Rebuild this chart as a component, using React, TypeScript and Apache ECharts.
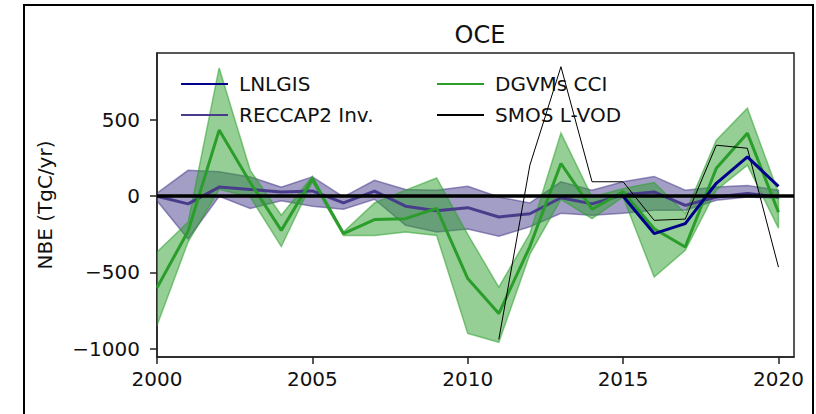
import React, { useEffect, useRef } from "react";
import * as echarts from "echarts";

// Years on the x axis
const years = [
  2000, 2001, 2002, 2003, 2004, 2005, 2006, 2007, 2008, 2009, 2010,
  2011, 2012, 2013, 2014, 2015, 2016, 2017, 2018, 2019, 2020,
];

// RECCAP2 inversions: ensemble mean and spread
const reccapMean = [0, -50, 60, 45, 28, 35, -44, 33, -65, -95, -75, -136, -115, -10, -50, 10, 28, -60, -5, 18, -5];
const reccapUpper = [20, 170, 160, 127, 60, 127, -5, 105, 45, 40, 66, -5, -44, 95, 40, 95, 130, 40, 60, 70, 40];
const reccapLower = [-30, -280, 0, -80, -30, -65, -85, -20, -190, -235, -215, -263, -200, -112, -125, -112, -92, -92, -26, -5, -13];

// DGVMs CCI: ensemble mean and spread
const dgvmMean = [-600, -230, 434, 90, -224, 115, -245, -153, -147, -80, -540, -770, -330, 215, -85, 30, -213, -333, 184, 414, -105];
const dgvmUpper = [-366, -170, 842, 170, -125, 130, -235, -44, 40, 120, -250, -597, -245, 414, -5, 50, 90, -112, 368, 578, 20];
const dgvmLower = [-849, -300, 45, -5, -330, 95, -257, -257, -235, -257, -900, -958, -380, -20, -147, -5, -530, -355, 40, 204, -210];

// SMOS L-VOD (2011-2020)
const smosYears = [2011, 2012, 2013, 2014, 2015, 2016, 2017, 2018, 2019, 2020];
const smosValues = [-940, 204, 850, 95, 95, -158, -150, 335, 315, -465];

// LNLGIS (2015-2020)
const lnlgisYears = [2015, 2016, 2017, 2018, 2019, 2020];
const lnlgisValues = [0, -245, -180, 85, 258, 65];

// Tick values
const xTicks = [2000, 2005, 2010, 2015, 2020];
const yTicks = [-1000, -500, 0, 500];

const FONT = "DejaVu Sans";

function bandSeries(name: string, upper: number[], lower: number[], fill: string, stroke: string) {
  return {
    name,
    type: "custom",
    silent: true,
    clip: true,
    data: years.map((y, i) => [y, lower[i], upper[i]]),
    encode: { x: 0, y: [1, 2] },
    renderItem: (params: any, api: any) => {
      if (params.dataIndex !== 0) return null;
      const top = years.map((y, i) => api.coord([y, upper[i]]));
      const bottom = years.map((y, i) => api.coord([y, lower[i]])).reverse();
      return {
        type: "polygon",
        shape: { points: top.concat(bottom) },
        style: { fill, stroke, lineWidth: 1.5 },
      };
    },
  };
}

function lineSeries(name: string, xs: number[], ys: number[], color: string, width: number, z: number) {
  return {
    name,
    type: "line",
    data: xs.map((x, i) => [x, ys[i]]),
    symbol: "none",
    z,
    lineStyle: { color, width },
    itemStyle: { color },
  };
}

export default function App() {
  const ref = useRef<HTMLDivElement>(null);

  useEffect(() => {
    if (!ref.current) return;
    const chart = echarts.init(ref.current, undefined, { renderer: "svg" });

    const legendText = { fontFamily: FONT, fontSize: 20, color: "#111", padding: [0, 0, 0, 6] };
    const legendBase = {
      orient: "vertical",
      top: 69,
      itemWidth: 47,
      itemHeight: 20,
      itemGap: 11,
      textStyle: legendText,
      itemStyle: { opacity: 0 },
      selectedMode: false,
    };

    chart.setOption({
      animation: false,
      backgroundColor: "#fff",
      title: {
        text: "OCE",
        left: 475,
        top: 18,
        textAlign: "center",
        textStyle: { fontFamily: FONT, fontSize: 24, fontWeight: "normal", color: "#111" },
      },
      legend: [
        { ...legendBase, data: ["LNLGIS", "RECCAP2 Inv."], left: 175 },
        { ...legendBase, data: ["DGVMs CCI", "SMOS L-VOD"], left: 431 },
      ],
      grid: {
        left: 157,
        right: 22,
        top: 53,
        bottom: 57,
        show: true,
        borderColor: "#222",
        borderWidth: 1.5,
        backgroundColor: "transparent",
      },
      xAxis: {
        type: "value",
        min: 2000,
        max: 2020.5,
        splitLine: { show: false },
        axisLine: { show: true, onZero: false, lineStyle: { color: "#222", width: 1.5 } },
        axisTick: { show: true, length: 7, lineStyle: { color: "#222", width: 1.5 }, customValues: xTicks },
        axisLabel: {
          customValues: xTicks,
          margin: 12,
          fontFamily: FONT,
          fontSize: 20,
          color: "#111",
          formatter: (v: number) => String(v),
        },
      },
      yAxis: {
        type: "value",
        min: -1055,
        max: 940,
        name: "NBE (TgC/yr)",
        nameLocation: "middle",
        nameGap: 102,
        nameRotate: 90,
        nameTextStyle: { fontFamily: FONT, fontSize: 20, color: "#111" },
        splitLine: { show: false },
        axisLine: { show: true, onZero: false, lineStyle: { color: "#222", width: 1.5 } },
        axisTick: { show: true, length: 7, lineStyle: { color: "#222", width: 1.5 }, customValues: yTicks },
        axisLabel: {
          customValues: yTicks,
          margin: 17,
          fontFamily: FONT,
          fontSize: 20,
          color: "#111",
          formatter: (v: number) => (v < 0 ? "\u2212" + Math.abs(v) : String(v)),
        },
      },
      graphic: [
        {
          type: "rect",
          silent: true,
          z: 100,
          shape: { x: 24, y: 5, width: 789, height: 440 },
          style: { fill: "none", stroke: "#000", lineWidth: 2 },
        },
      ],
      series: [
        bandSeries("RECCAP2 band", reccapUpper, reccapLower, "rgba(72,61,139,0.5)", "rgba(72,61,139,0.55)"),
        bandSeries("DGVMs band", dgvmUpper, dgvmLower, "rgba(44,160,44,0.5)", "rgba(44,160,44,0.55)"),
        lineSeries("RECCAP2 Inv.", years, reccapMean, "#483d8b", 3, 3),
        lineSeries("DGVMs CCI", years, dgvmMean, "#2a9d2a", 3, 4),
        lineSeries("SMOS L-VOD", smosYears, smosValues, "#000", 1, 5),
        {
          ...lineSeries("LNLGIS", lnlgisYears, lnlgisValues, "#00008b", 3, 6),
          markLine: {
            silent: true,
            symbol: "none",
            z: 10,
            label: { show: false },
            lineStyle: { color: "#000", width: 3.5, type: "solid" },
            data: [{ yAxis: 0 }],
          },
        },
      ],
    });

    return () => chart.dispose();
  }, []);

  return (
    <div
      ref={ref}
      style={{ position: "fixed", left: 0, top: 0, width: 816, height: 414, background: "#fff" }}
    />
  );
}
